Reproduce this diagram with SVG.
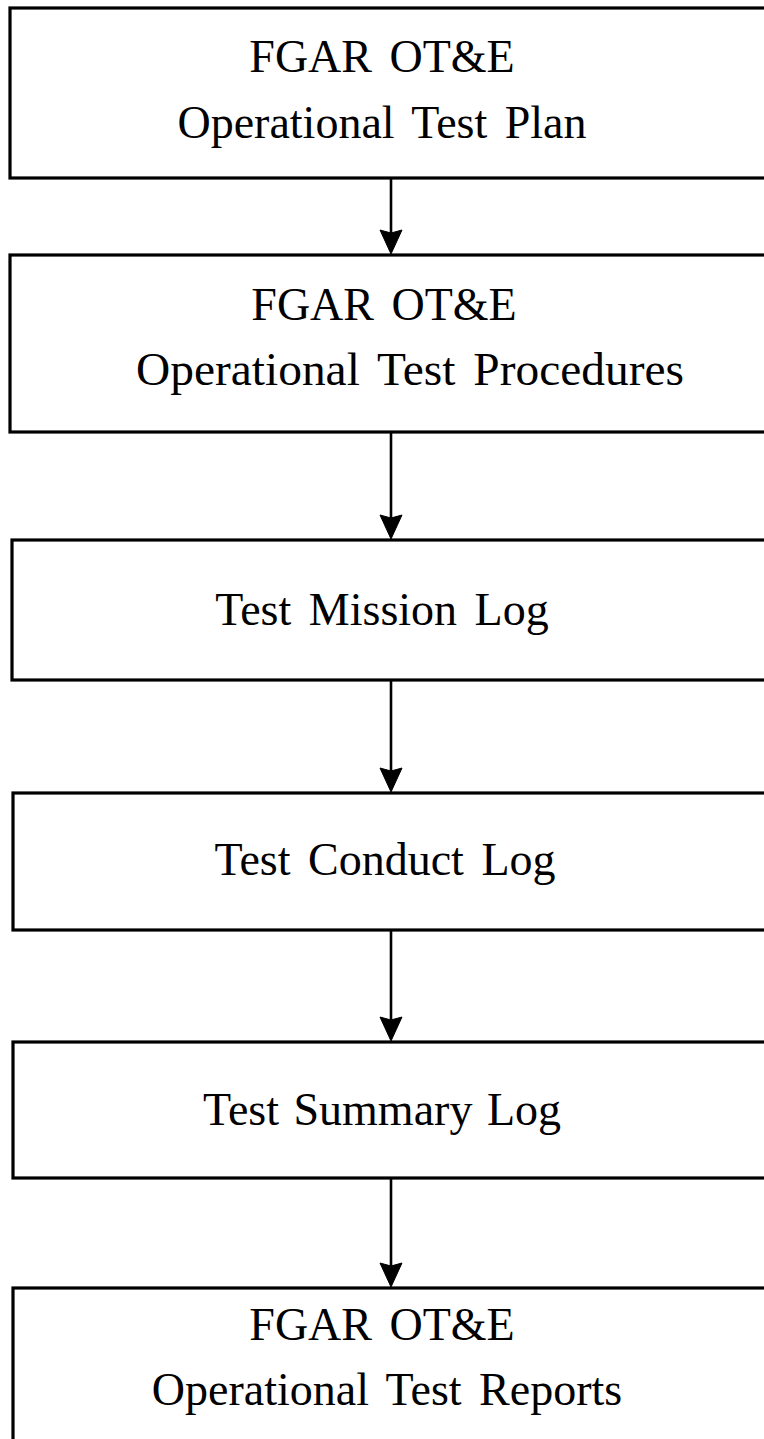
<svg xmlns="http://www.w3.org/2000/svg" width="764" height="1439" viewBox="0 0 764 1439">
<style>
.box{fill:#fff;stroke:#000;stroke-width:3.2}
.t{font-family:"Liberation Serif","Times New Roman",serif;font-size:46px;fill:#000;text-anchor:middle;word-spacing:6px}
.ln{stroke:#000;stroke-width:2.6;fill:none}
.ah{fill:#000;stroke:#000;stroke-width:1;stroke-linejoin:miter}
</style>
<rect width="764" height="1439" fill="#fff"/>
<g id="connectors">
<line class="ln" x1="391" y1="178" x2="391" y2="240"/>
<path class="ah" d="M391,254 L380,230 L391,233 L402,230 Z"/>
<line class="ln" x1="391" y1="432" x2="391" y2="525"/>
<path class="ah" d="M391,539 L380,515 L391,518 L402,515 Z"/>
<line class="ln" x1="391" y1="680" x2="391" y2="778"/>
<path class="ah" d="M391,792 L380,768 L391,771 L402,768 Z"/>
<line class="ln" x1="391" y1="930" x2="391" y2="1027"/>
<path class="ah" d="M391,1041 L380,1017 L391,1020 L402,1017 Z"/>
<line class="ln" x1="391" y1="1178" x2="391" y2="1273"/>
<path class="ah" d="M391,1287 L380,1263 L391,1266 L402,1263 Z"/>
</g>
<g id="n1">
<rect class="box" x="10" y="8" width="800" height="170"/>
<text class="t" x="382" y="72">FGAR OT&amp;E</text>
<text class="t" x="382" y="138">Operational Test Plan</text>
</g>
<g id="n2">
<rect class="box" x="10" y="255" width="800" height="177"/>
<text class="t" x="384" y="320">FGAR OT&amp;E</text>
<text class="t" x="410" y="385" textLength="548" lengthAdjust="spacingAndGlyphs">Operational Test Procedures</text>
</g>
<g id="n3">
<rect class="box" x="12" y="540" width="800" height="140"/>
<text class="t" x="382" y="625">Test Mission Log</text>
</g>
<g id="n4">
<rect class="box" x="13" y="793" width="800" height="137"/>
<text class="t" x="385" y="875">Test Conduct Log</text>
</g>
<g id="n5">
<rect class="box" x="13" y="1042" width="800" height="136"/>
<text class="t" x="382" y="1125" style="word-spacing:3px">Test Summary Log</text>
</g>
<g id="n6">
<rect class="box" x="13" y="1288" width="800" height="200"/>
<text class="t" x="382" y="1340">FGAR OT&amp;E</text>
<text class="t" x="387" y="1405">Operational Test Reports</text>
</g>
</svg>
